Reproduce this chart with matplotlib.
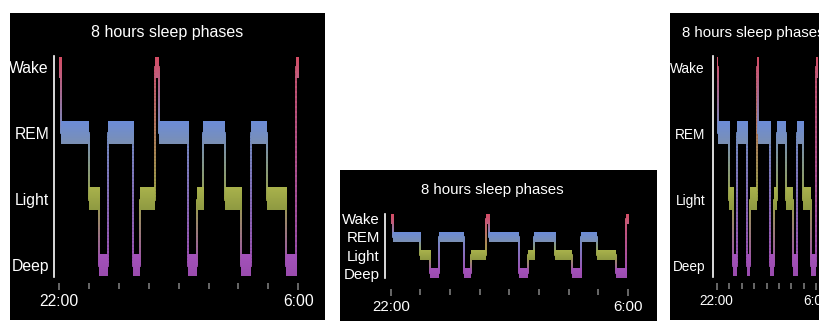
import numpy as np
import matplotlib
matplotlib.use('Agg')
import matplotlib.pyplot as plt
from matplotlib.patches import Rectangle
from matplotlib.collections import LineCollection
from matplotlib.colors import to_rgb

plt.rc('font', family=['Liberation Sans', 'DejaVu Sans'])

W, H = 819, 323

# sleep data (hours after 22:00)
phase_rows = ['Deep', 'Light', 'REM', 'Wake']
phases = ['Wake', 'REM', 'Light', 'Deep', 'REM', 'Deep', 'Light', 'Wake', 'REM',
          'Deep', 'Light', 'REM', 'Light', 'Deep', 'REM', 'Light', 'Deep', 'Wake']
starts = [0.0, 0.08, 1.0, 1.34, 1.63, 2.47, 2.7, 3.2, 3.33,
          4.32, 4.62, 4.83, 5.55, 6.1, 6.43, 6.96, 7.6, 7.94]
end_time = 8.04
hour_ticks = list(range(9))
tick_labels = ['22:00'] + [''] * 7 + ['6:00']
title = '8 hours sleep phases'

col_top = {'Wake': '#d64c63', 'REM': '#6c8cd8', 'Light': '#a9b24c', 'Deep': '#a452bb'}
col_bot = {'Wake': '#bf5f80', 'REM': '#7b90b4', 'Light': '#8f9a42', 'Deep': '#9a4cae'}

fig = plt.figure(figsize=(W / 100, H / 100), dpi=100, facecolor='white')


def mid(p):
    return (np.array(to_rgb(col_top[p])) + np.array(to_rgb(col_bot[p]))) / 2


def panel(box, axis_x, x0, k, y_wake, y_deep, half_px, title_xy, fs, title_fs,
          tick_off, tick_pad, ypad):
    fig.add_artist(Rectangle((box[0] / W, 1 - box[3] / H), (box[2] - box[0]) / W,
                             (box[3] - box[1]) / H, transform=fig.transFigure,
                             facecolor='black', edgecolor='none', zorder=0))
    spacing = (y_deep - y_wake) / 3
    half = half_px / spacing
    top = y_wake - half_px
    bot = y_deep + half_px
    right = x0 + 8.4 * k
    ax = fig.add_axes([axis_x / W, 1 - bot / H, (right - axis_x) / W, (bot - top) / H])
    ax.patch.set_visible(False)

    ends = starts[1:] + [end_time]
    for p, s, e in zip(phases, starts, ends):
        lvl = phase_rows.index(p)
        grad = np.linspace(to_rgb(col_top[p]), to_rgb(col_bot[p]), 32)[:, None, :]
        ax.imshow(grad, extent=(s, e, lvl - half, lvl + half), aspect='auto',
                  interpolation='bilinear', origin='upper', zorder=3)

    # connecting lines, colour fades from one phase to the next
    for i in range(len(phases) - 1):
        a, b = phases[i], phases[i + 1]
        la, lb = phase_rows.index(a), phase_rows.index(b)
        t = starts[i + 1]
        ys = np.linspace(la, lb, 41)
        segs = [[(t, ys[j]), (t, ys[j + 1])] for j in range(40)]
        f = np.linspace(0, 1, 40)[:, None]
        cols = mid(a) * (1 - f) + mid(b) * f
        ax.add_collection(LineCollection(segs, colors=cols, linewidths=1.3,
                                         capstyle='projecting', zorder=2))

    ax.set_xlim((axis_x - x0) / k, (right - x0) / k)
    ax.set_ylim(-half, 3 + half)

    for s in ['top', 'right', 'bottom']:
        ax.spines[s].set_visible(False)
    ax.spines['left'].set_color('white')
    ax.spines['left'].set_linewidth(1.2)
    ax.spines['bottom'].set_position(('outward', tick_off))

    ax.set_yticks(range(4), phase_rows)
    ax.tick_params(axis='y', length=0, pad=ypad, labelcolor='white', labelsize=fs)
    ax.set_xticks(hour_ticks, tick_labels)
    ax.tick_params(axis='x', length=4, width=1.2, color='#7a7a7a', labelcolor='white',
                   labelsize=fs, pad=tick_pad)
    tks = ax.xaxis.get_major_ticks()
    for tk in (tks[0], tks[-1]):
        tk.tick1line.set_color('white')
        tk.tick1line.set_markersize(5)

    fig.text(title_xy[0] / W, 1 - title_xy[1] / H, title, color='white',
             ha='center', va='center', fontsize=title_fs)
    return ax


panel((10, 13, 325, 320), 54, 59, 29.9, 67.5, 265.5, 11, (167, 33), 11.3, 11.5,
      4.8, 4.0, 3.6)
panel((340, 170, 657, 321), 385, 390.7, 29.66, 219, 273, 5, (492, 190), 10.8, 10.8,
      8, 4.0, 3.6)
panel((670, 13, 845, 320), 712.7, 716.7, 12.45, 67.5, 265.5, 11, (753, 33), 9.8, 10.8,
      4.8, 4.0, 5.5)

fig.savefig('out.png', dpi=100, facecolor='white')
